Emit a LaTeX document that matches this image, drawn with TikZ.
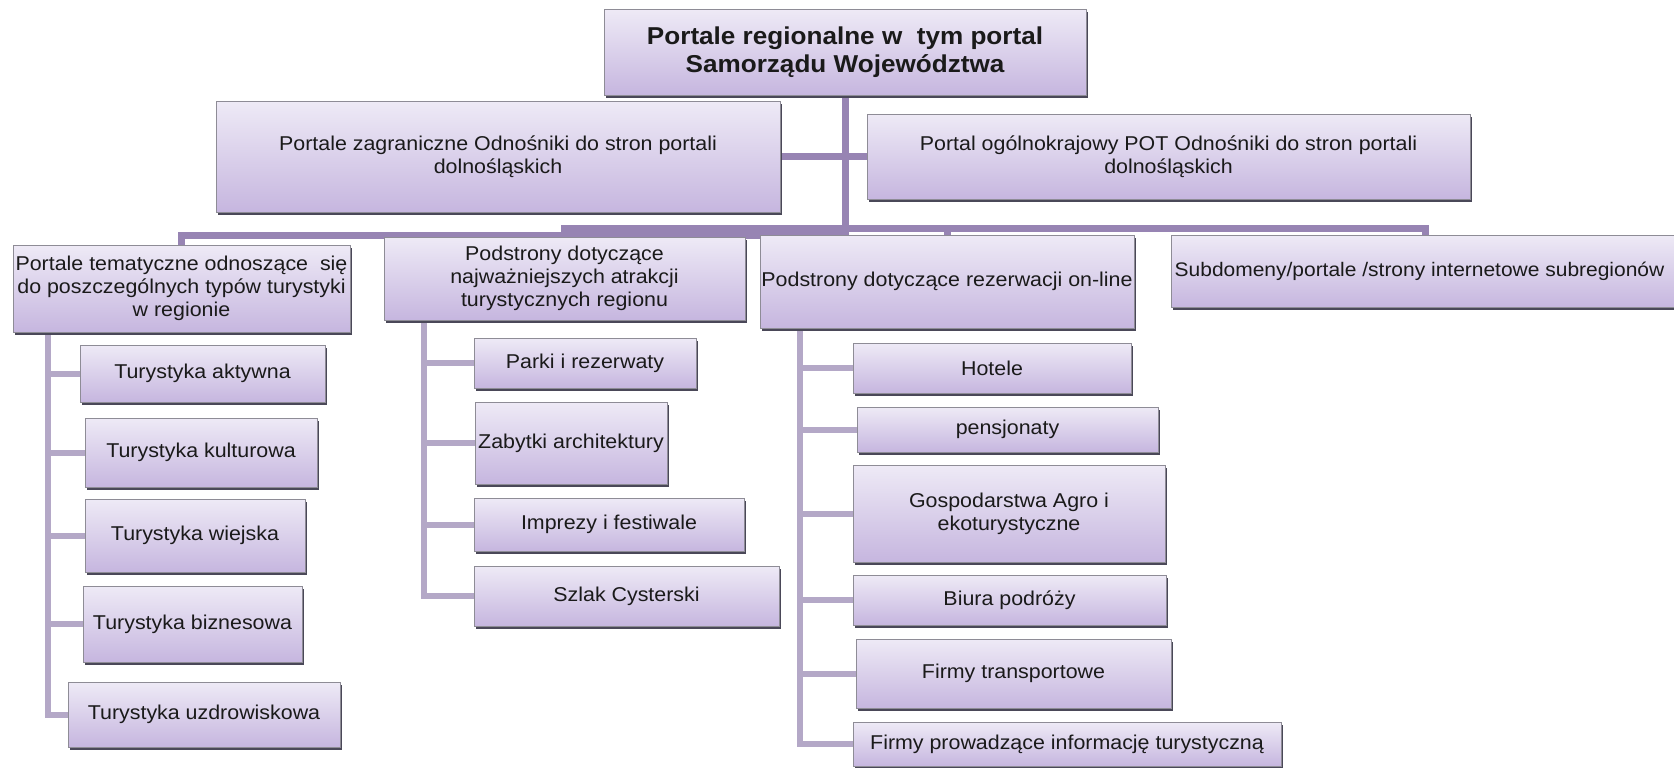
\documentclass[tikz,border=0pt]{standalone}
\usepackage{fontspec}
\setmainfont{Liberation Sans}[FakeStretch=1.07]
\newfontfamily\headfont{Liberation Sans}[FakeStretch=1.07]
\usetikzlibrary{shadows,backgrounds}
\definecolor{boxtop}{HTML}{EEEAF6}
\definecolor{boxbot}{HTML}{C6B6DF}
\definecolor{boxedge}{HTML}{8E8C96}
\definecolor{boxshade}{HTML}{4A4858}
\definecolor{mainlink}{HTML}{9784B3}
\definecolor{sublink}{HTML}{B4A8C7}
\definecolor{ink}{HTML}{1A1A1A}
\tikzset{
  cbox/.style={draw=boxedge, line width=0.5pt, top color=boxtop, bottom color=boxbot,
    inner sep=0pt, outer sep=0pt, align=center, text=ink,
    font=\fontsize{10}{11.5}\selectfont,
    drop shadow={shadow xshift=0.9pt, shadow yshift=-1.3pt, fill=boxshade, opacity=1}},
  rootbox/.style={cbox, font=\headfont\fontsize{12.2}{13.9}\selectfont\bfseries},
  mainline/.style={draw=mainlink, line width=3.5pt},
  subline/.style={draw=sublink, line width=3pt}
}
% \bx[style]{name}{x1}{y1}{x2}{y2}{text}: box given by its corners
\newcommand\bx[7][cbox]{%
  \node[#1, minimum width={(#5-#3)*0.5pt}, minimum height={(#6-#4)*0.5pt}]
    (#2) at ({(#3+#5)/2},{(#4+#6)/2}) {#7};}
\begin{document}
\begin{tikzpicture}[x=0.5pt, y=-0.5pt]
\useasboundingbox (0,0) rectangle (1674,767);

% boxes
\bx[rootbox]{root}{604}{9}{1086}{95}{Portale regionalne w\ \ tym portal\\Samorządu Województwa}
\bx{A}{216}{101}{780}{212}{Portale zagraniczne Odnośniki do stron portali\\dolnośląskich}
\bx{B}{867}{114}{1470}{199}{Portal ogólnokrajowy POT Odnośniki do stron portali\\dolnośląskich}
\bx{C}{13}{245}{350}{332}{Portale tematyczne odnoszące\ \ się\\do poszczególnych typów turystyki\\w regionie}
\bx{D}{384}{237}{745}{320}{Podstrony dotyczące\\najważniejszych atrakcji\\turystycznych regionu}
\bx{E}{760}{235}{1134}{328}{Podstrony dotyczące rezerwacji on-line}
\bx[cbox, font=\fontsize{9.8}{11.5}\selectfont]{F}{1171}{235}{1680}{307}{\hspace*{-6pt}Subdomeny/portale /strony internetowe subregionów}

\bx{c1}{80}{345}{325}{402}{Turystyka aktywna}
\bx{c2}{85}{418}{317}{487}{Turystyka kulturowa}
\bx{c3}{85}{499}{305}{572}{Turystyka wiejska}
\bx{c4}{83}{586}{302}{662}{Turystyka biznesowa}
\bx{c5}{68}{682}{340}{747}{Turystyka uzdrowiskowa}

\bx{d1}{474}{338}{696}{388}{Parki i rezerwaty}
\bx{d2}{475}{402}{667}{484}{Zabytki architektury}
\bx{d3}{474}{498}{744}{551}{Imprezy i festiwale}
\bx{d4}{474}{566}{779}{626}{Szlak Cysterski}

\bx{e1}{853}{343}{1131}{393}{Hotele}
\bx{e2}{857}{407}{1158}{452}{pensjonaty}
\bx{e3}{853}{465}{1165}{562}{Gospodarstwa Agro i\\ekoturystyczne}
\bx{e4}{853}{575}{1166}{625}{Biura podróży}
\bx{e5}{856}{639}{1171}{708}{Firmy transportowe}
\bx{e6}{853}{722}{1281}{766}{Firmy prowadzące informację turystyczną}

% trunk points of the vertical lists
\coordinate (Cs) at (48,332);
\coordinate (Ds) at (424,320);
\coordinate (Es) at (800,328);

% connectors, drawn beneath the boxes
\begin{scope}[on background layer]
  \draw[mainline] (root.south) -- ++(0,140) -| (C.north);
  \foreach \n in {D,E,F}
    \draw[mainline] (root.south) -- ++(0,133) -| (\n.north);
  \draw[mainline] (A.east) -- (B.west);
  \foreach \n in {c1,c2,c3,c4,c5}
    \draw[subline] (Cs) |- (\n.west);
  \foreach \n in {d1,d2,d3,d4}
    \draw[subline] (Ds) |- (\n.west);
  \foreach \n in {e1,e2,e3,e4,e5,e6}
    \draw[subline] (Es) |- (\n.west);
\end{scope}
\end{tikzpicture}
\end{document}
